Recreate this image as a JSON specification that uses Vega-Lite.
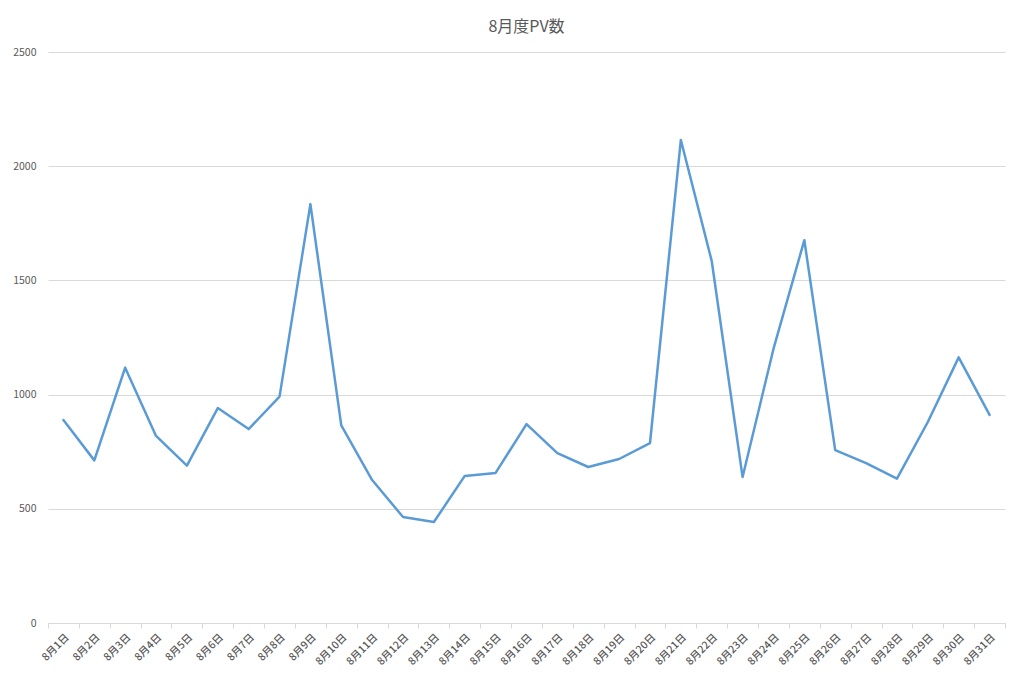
{
  "$schema": "https://vega.github.io/schema/vega-lite/v6.json",
  "autosize": "none",
  "padding": {"left": 48, "top": 52, "right": 19, "bottom": 63},
  "width": 957,
  "height": 571,
  "title": {"text": "8月度PV数", "fontSize": 16, "font": "Noto Sans CJK JP", "fontWeight": "normal", "color": "#595959", "offset": 12},
  "config": {"view": {"stroke": null}, "font": "Noto Sans CJK JP"},
  "data": {"values": [
    {"day": "8月1日", "pv": 889},
    {"day": "8月2日", "pv": 712},
    {"day": "8月3日", "pv": 1118},
    {"day": "8月4日", "pv": 819},
    {"day": "8月5日", "pv": 689},
    {"day": "8月6日", "pv": 941},
    {"day": "8月7日", "pv": 849},
    {"day": "8月8日", "pv": 991},
    {"day": "8月9日", "pv": 1834},
    {"day": "8月10日", "pv": 865},
    {"day": "8月11日", "pv": 626},
    {"day": "8月12日", "pv": 464},
    {"day": "8月13日", "pv": 442},
    {"day": "8月14日", "pv": 644},
    {"day": "8月15日", "pv": 657},
    {"day": "8月16日", "pv": 871},
    {"day": "8月17日", "pv": 744},
    {"day": "8月18日", "pv": 683},
    {"day": "8月19日", "pv": 718},
    {"day": "8月20日", "pv": 788},
    {"day": "8月21日", "pv": 2115},
    {"day": "8月22日", "pv": 1585},
    {"day": "8月23日", "pv": 639},
    {"day": "8月24日", "pv": 1200},
    {"day": "8月25日", "pv": 1676},
    {"day": "8月26日", "pv": 757},
    {"day": "8月27日", "pv": 700},
    {"day": "8月28日", "pv": 632},
    {"day": "8月29日", "pv": 880},
    {"day": "8月30日", "pv": 1163},
    {"day": "8月31日", "pv": 911}
  ]},
  "mark": {"type": "line", "color": "#5B9BD5", "strokeWidth": 2.5, "strokeJoin": "round", "strokeCap": "round"},
  "encoding": {
    "x": {
      "field": "day", "type": "ordinal", "sort": null,
      "scale": {"type": "band", "paddingInner": 0, "paddingOuter": 0},
      "axis": {
        "title": null, "labelAngle": -45, "labelFontSize": 10.5, "labelFontWeight": 500, "labelColor": "#595959",
        "domainColor": "#d9d9d9", "tickColor": "#d9d9d9", "tickBand": "extent", "tickSize": 5,
        "labelPadding": 4, "grid": false
      }
    },
    "y": {
      "field": "pv", "type": "quantitative",
      "scale": {"domain": [0, 2500]},
      "axis": {
        "title": null, "values": [0, 500, 1000, 1500, 2000, 2500], "format": "d", "labelFontSize": 10.5, "labelColor": "#595959",
        "domain": false, "ticks": false, "gridColor": "#d9d9d9", "labelPadding": 12
      }
    }
  }
}
